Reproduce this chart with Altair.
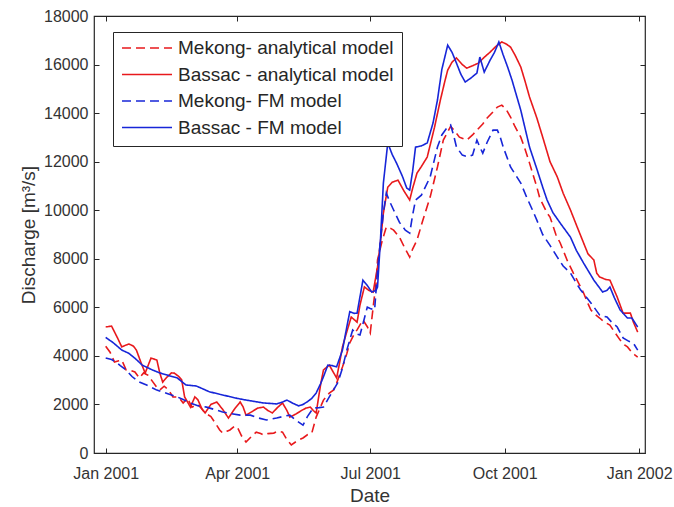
import altair as alt
import pandas as pd

series_names = ["Mekong- analytical model", "Bassac - analytical model",
                "Mekong- FM model", "Bassac - FM model"]
series_colors = ["#e8191c", "#e8191c", "#1726d8", "#1726d8"]
series_dashes = [[9, 5], [1, 0], [9, 5], [1, 0]]

# Day offsets from 1 Jan 2001 and discharge values [m3/s]
mekong_an_days = [0, 3, 6, 9, 11, 14, 17, 20, 23, 26, 29, 32, 35, 37, 40, 43, 46, 50, 53, 56, 59, 63, 66, 68,
                  72, 75, 78, 80, 83, 85, 88, 90, 93, 96, 100, 103, 106, 108, 111, 115, 118, 121, 124, 127,
                  131, 135, 138, 141, 144, 147, 149, 153, 156, 158, 162, 165, 167, 170, 172, 176, 179, 181,
                  183, 185, 186, 189, 192, 195, 197, 201, 205, 208, 210, 213, 217, 222, 227, 231, 236, 239,
                  242, 247, 251, 254, 258, 261, 265, 268, 271, 274, 277, 280, 284, 287, 290, 295, 297, 302,
                  304, 308, 311, 316, 320, 324, 327, 330, 332, 335, 338, 341, 345, 348, 352, 355, 357, 360,
                  362, 364]
mekong_an_vals = [4400, 4150, 3750, 3800, 3830, 3420, 3400, 3340, 3090, 3300, 3200, 2950, 2700, 2590, 2750,
                  2600, 2310, 2300, 2060, 2250, 1890, 2000, 1800, 1650, 1500, 1230, 950, 820, 900, 950, 1100,
                  1070, 700, 450, 700, 860, 800, 740, 800, 820, 900, 860, 550, 330, 500, 620, 750, 820, 1480,
                  1900, 2180, 2470, 2600, 2880, 3540, 4100, 4530, 4900, 5070, 5480, 5200, 4940, 6010, 7000,
                  7950, 8700, 9310, 9250, 9180, 8890, 8400, 8070, 8400, 8770, 9590, 10540, 11780, 12890,
                  13450, 13250, 13010, 12890, 13100, 13300, 13550, 13800, 14050, 14250, 14330, 14150, 13840,
                  13450, 13010, 12500, 11940, 10950, 10500, 9880, 9720, 9000, 8650, 7900, 7410, 6950, 6590,
                  6150, 5890, 5700, 5560, 5400, 5270, 5000, 4650, 4450, 4370, 4150, 4040, 3950]

bassac_an_days = [0, 4, 8, 11, 14, 16, 19, 21, 24, 27, 29, 31, 35, 37, 39, 42, 45, 47, 50, 52, 54, 58, 61,
                  63, 66, 68, 72, 76, 80, 84, 88, 92, 94, 96, 100, 104, 108, 111, 114, 118, 121, 124, 126,
                  130, 134, 137, 140, 142, 144, 147, 149, 153, 156, 158, 160, 162, 165, 168, 172, 174, 177,
                  180, 183, 186, 188, 190, 193, 196, 200, 204, 208, 210, 213, 216, 220, 225, 229, 232, 234,
                  237, 240, 244, 247, 251, 255, 259, 263, 267, 271, 274, 277, 280, 284, 287, 290, 295, 299,
                  304, 309, 313, 318, 322, 327, 330, 334, 336, 338, 342, 345, 348, 350, 354, 357, 359, 361,
                  364]
bassac_an_vals = [5190, 5230, 4750, 4370, 4450, 4490, 4400, 4240, 3750, 3290, 3600, 3910, 3830, 3300, 2920,
                  3130, 3300, 3290, 3150, 3010, 2310, 1890, 2310, 2200, 1800, 1650, 2000, 2100, 1800, 1440,
                  1800, 2100, 1900, 1560, 1700, 1850, 1890, 1750, 1650, 1900, 2060, 1750, 1480, 1600, 1750,
                  1850, 1890, 1750, 1650, 2800, 3420, 3620, 3300, 3090, 3700, 4370, 5000, 5600, 5390, 6100,
                  6840, 6700, 6630, 7660, 8700, 9880, 10950, 11150, 11240, 10800, 10420, 10900, 11530, 11800,
                  12190, 13420, 14540, 15300, 15770, 16100, 16270, 16000, 15850, 15950, 16060, 16300, 16510,
                  16750, 16930, 16850, 16720, 16400, 15900, 15300, 14660, 13800, 13010, 12000, 11370, 10700,
                  10010, 9400, 8650, 8200, 7950, 7400, 7250, 7150, 7120, 6700, 6420, 5760, 5760, 5760, 5400,
                  4980]

mekong_fm_days = [0, 4, 7, 10, 14, 18, 23, 28, 35, 42, 49, 53, 58, 63, 69, 74, 80, 86, 92, 99, 104, 110,
                  117, 121, 126, 130, 135, 138, 142, 146, 149, 153, 159, 162, 165, 169, 172, 174, 179, 181,
                  184, 186, 188, 190, 192, 194, 197, 201, 205, 208, 210, 212, 216, 222, 227, 230, 233, 236,
                  238, 240, 244, 248, 251, 254, 256, 258, 261, 265, 268, 270, 272, 277, 284, 288, 292, 295,
                  299, 304, 309, 313, 318, 322, 325, 332, 338, 343, 346, 350, 354, 358, 361, 364]
mekong_fm_vals = [3910, 3850, 3750, 3600, 3420, 3150, 2920, 2800, 2590, 2450, 2310, 2200, 2060, 1950, 1890,
                  1800, 1690, 1620, 1560, 1560, 1450, 1360, 1440, 1500, 1560, 1350, 1150, 1500, 1850, 1870,
                  1890, 2310, 2920, 3500, 4240, 5070, 4900, 4860, 6010, 5950, 5890, 7540, 8770, 9900, 10710,
                  10400, 10010, 9500, 9180, 9060, 9800, 10420, 10620, 11370, 12600, 13100, 13350, 13510,
                  13100, 12600, 12270, 12200, 12270, 12890, 12600, 12350, 12800, 13300, 13300, 13000, 12600,
                  11780, 11120, 10540, 10010, 9590, 9000, 8550, 8070, 7700, 7410, 7000, 6710, 6180, 5680,
                  5600, 5400, 5190, 4740, 4600, 4530, 4240]

bassac_fm_days = [0, 5, 11, 16, 21, 25, 32, 37, 42, 49, 55, 62, 71, 78, 85, 90, 96, 102, 108, 113, 117,
                  121, 124, 128, 132, 135, 138, 141, 144, 147, 149, 152, 155, 158, 162, 165, 167, 170, 172,
                  176, 179, 182, 185, 186, 188, 190, 193, 196, 199, 203, 206, 208, 210, 212, 216, 220, 224,
                  227, 230, 234, 237, 240, 243, 246, 250, 254, 256, 259, 263, 266, 269, 272, 275, 278, 284,
                  290, 295, 299, 302, 306, 311, 318, 322, 327, 334, 340, 343, 345, 348, 352, 357, 360, 364]
bassac_fm_vals = [4760, 4550, 4240, 4100, 3850, 3620, 3420, 3300, 3210, 3090, 2800, 2760, 2520, 2420, 2320,
                  2250, 2180, 2120, 2060, 2040, 2020, 2100, 2180, 2050, 1940, 2000, 2110, 2250, 2470, 2850,
                  3140, 3620, 3600, 3550, 4240, 5200, 5820, 5750, 5760, 7120, 6900, 6630, 6700, 6840, 8770,
                  11120, 12770, 12300, 11940, 11400, 10910, 10830, 11600, 12600, 12650, 12770, 13600, 14540,
                  15800, 16800, 16500, 16060, 15600, 15280, 15450, 15650, 16310, 15690, 16180, 16500, 16930,
                  16390, 15900, 15360, 14120, 12600, 11700, 10950, 10420, 9900, 9470, 8890, 8350, 7820, 7120,
                  6630, 6700, 6840, 6400, 5890, 5560, 5560, 5190]

x_tick_dates = ["2001-01-01", "2001-04-01", "2001-07-01", "2001-10-01", "2002-01-01"]
y_ticks = list(range(0, 18001, 2000))

all_days = [mekong_an_days, bassac_an_days, mekong_fm_days, bassac_fm_days]
all_vals = [mekong_an_vals, bassac_an_vals, mekong_fm_vals, bassac_fm_vals]

rows = []
base = pd.Timestamp("2001-01-01")
for name, days, vals in zip(series_names, all_days, all_vals):
    for d, v in zip(days, vals):
        rows.append({"series": name,
                     "date": (base + pd.Timedelta(days=d)).strftime("%Y-%m-%d"),
                     "value": v})
df = pd.DataFrame(rows)


def dt(s):
    y, m, d = [int(p) for p in s.split("-")]
    return alt.DateTime(year=y, month=m, date=d, utc=True)


x_scale = alt.Scale(type="utc", domain=[dt("2000-12-24"), dt("2002-01-05")])
y_scale = alt.Scale(domain=[0, 18000], nice=False)

axis_common = dict(offset=-5, tickSize=5, domain=False, grid=False,
                   tickColor="#262626", labelColor="#333333", titleColor="#333333",
                   labelFont="Liberation Sans", titleFont="Liberation Sans",
                   labelFontSize=16, titleFontSize=19, titleFontWeight="normal")

lines = alt.Chart(df).mark_line(strokeWidth=1.6).encode(
    x=alt.X("date:T", scale=x_scale,
            axis=alt.Axis(values=[dt(s) for s in x_tick_dates], format="%b %Y",
                          title="Date", labelPadding=12, titlePadding=5,
                          labelFlush=False, labelOverlap=False, **axis_common)),
    y=alt.Y("value:Q", scale=y_scale,
            axis=alt.Axis(values=y_ticks, format="d", title="Discharge [m³/s]", labelPadding=6,
                          titlePadding=5, **axis_common)),
    color=alt.Color("series:N",
                    scale=alt.Scale(domain=series_names, range=series_colors),
                    legend=alt.Legend(title=None, orient="none", legendX=19, legendY=16)),
    strokeDash=alt.StrokeDash("series:N",
                              scale=alt.Scale(domain=series_names, range=series_dashes),
                              legend=alt.Legend(title=None, orient="none", legendX=19, legendY=16)),
    order="date:T",
)

frame = alt.Chart(df).mark_line(opacity=0).encode(
    x=alt.X("date:T", scale=x_scale,
            axis=alt.Axis(values=[dt(s) for s in x_tick_dates], orient="top", labels=False,
                          title=None, offset=-5, tickSize=5, domain=False, grid=False,
                          tickColor="#262626")),
    y=alt.Y("value:Q", scale=y_scale,
            axis=alt.Axis(values=y_ticks, orient="right", labels=False, title=None,
                          offset=-5, tickSize=5, domain=False, grid=False,
                          tickColor="#262626")),
    detail="series:N",
)

chart = alt.layer(lines, frame).resolve_axis(
    x="independent", y="independent"
).properties(
    width=551, height=437,
    autosize=alt.AutoSizeParams(type="none"),
    padding={"left": 94, "top": 16, "right": 29, "bottom": 54},
    background="white",
).configure(
    font="Liberation Sans",
).configure_view(
    stroke="#262626", strokeWidth=1.2,
).configure_legend(
    strokeColor="#262626", fillColor="white", padding=8,
    symbolType="stroke", symbolSize=2500, symbolStrokeWidth=1.6,
    labelFontSize=19, labelFont="Liberation Sans", labelColor="#262626",
    clipHeight=16, rowPadding=7.5, labelOffset=5, labelLimit=400,
)

chart.save("out.html", embed_options={"renderer": "svg", "actions": False})
